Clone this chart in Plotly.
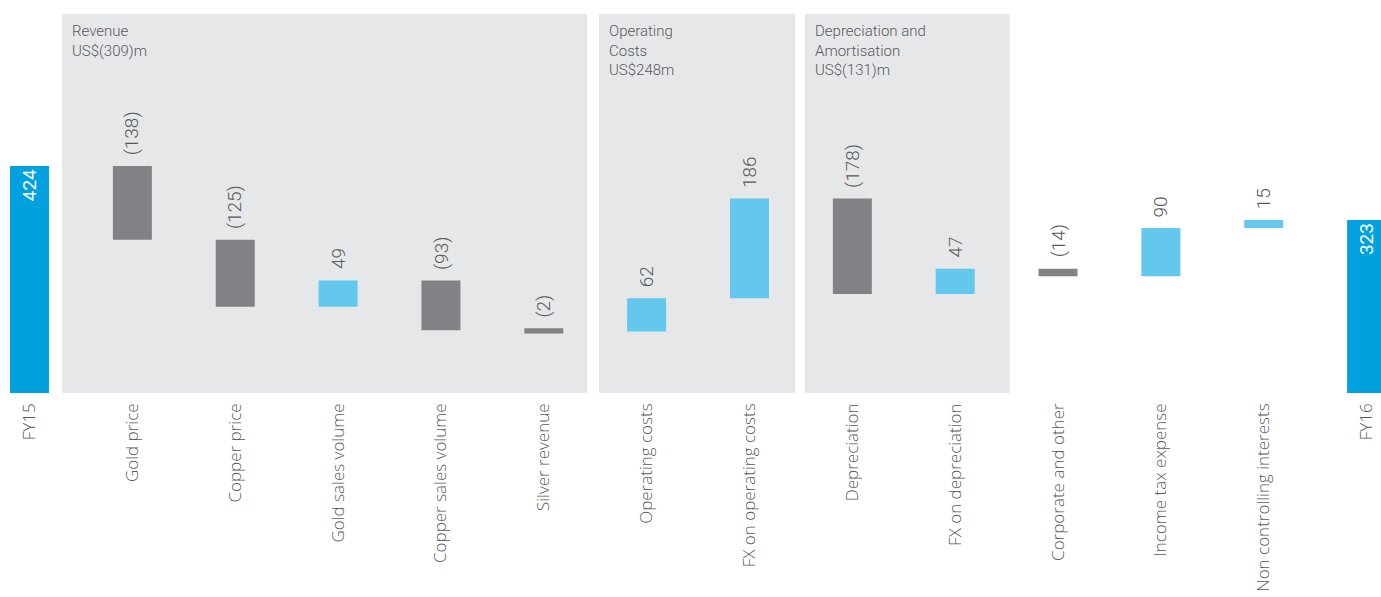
import plotly.graph_objects as go

categories = ["FY15", "Gold price", "Copper price", "Gold sales volume", "Copper sales volume",
              "Silver revenue", "Operating costs", "FX on operating costs", "Depreciation",
              "FX on depreciation", "Corporate and other", "Income tax expense",
              "Non controlling interests", "FY16"]
values = [424, -138, -125, 49, -93, -2, 62, 186, -178, 47, -14, 90, 15, 323]
measures = ["total"] + ["relative"] * 12 + ["total"]
value_labels = ["424", "(138)", "(125)", "49", "(93)", "(2)", "62", "186", "(178)", "47",
                "(14)", "90", "15", "323"]

panel_titles = ["Revenue<br>US$(309)m", "Operating<br>Costs<br>US$248m",
                "Depreciation and<br>Amortisation<br>US$(131)m"]
panel_spans = [(0.316, 5.42), (5.537, 7.443), (7.54, 9.53)]

C_DEC = "#818286"
C_INC = "#64c7ed"
C_TOT = "#00a1de"
C_PANEL = "#e6e7e9"
C_TEXT = "#58595b"

# compute bases
bases, heights, colors = [], [], []
running = 0
for v, m in zip(values, measures):
    if m == "total":
        bases.append(0)
        heights.append(v)
        colors.append(C_TOT)
        running = v
    else:
        if v >= 0:
            bases.append(running)
            heights.append(v)
            colors.append(C_INC)
        else:
            bases.append(running + v)
            heights.append(-v)
            colors.append(C_DEC)
        running += v

x = list(range(len(categories)))
# very thin bars get a minimum visible thickness via an outline of the same colour
line_w = [4 if h < 5 else 0 for h in heights]
bar_w = [0.34 if h < 5 else 0.379 for h in heights]

fig = go.Figure()
fig.add_trace(go.Bar(
    x=x, y=heights, base=bases,
    marker=dict(color=colors, line=dict(width=line_w, color=colors)),
    width=bar_w, hoverinfo="skip",
    text=[lbl if m == "total" else "" for lbl, m in zip(value_labels, measures)],
    textposition="inside", insidetextanchor="end", textangle=-90,
    textfont=dict(family="Roboto", size=19, color="white"),
))

annotations = []
for i, (lbl, m) in enumerate(zip(value_labels, measures)):
    if m == "total":
        continue
    top = bases[i] + heights[i]
    annotations.append(dict(x=i, y=top, xref="x", yref="y", text=lbl, showarrow=False,
                            textangle=-90, yanchor="bottom", xanchor="center",
                            yshift=9 + (2 if line_w[i] else 0),
                            font=dict(family="Roboto", size=19, color=C_TEXT, weight=300)))

shapes = []
for (x0, x1), title in zip(panel_spans, panel_titles):
    shapes.append(dict(type="rect", xref="x", yref="paper", x0=x0, x1=x1, y0=0, y1=1,
                       fillcolor=C_PANEL, line=dict(width=0), layer="below"))
    annotations.append(dict(x=x0, y=1, xref="x", yref="paper", text=title, showarrow=False,
                            xanchor="left", yanchor="top", align="left", xshift=8, yshift=-6,
                            font=dict(family="Roboto", size=15, color=C_TEXT, weight=300)))

fig.update_layout(
    width=1381, height=597,
    margin=dict(l=0, r=0, t=14, b=204),
    paper_bgcolor="white", plot_bgcolor="white",
    showlegend=False,
    shapes=shapes, annotations=annotations,
    xaxis=dict(range=[-0.287, 13.14], tickmode="array", tickvals=x, ticktext=categories,
               tickangle=-90, showgrid=False, zeroline=False, showline=False, ticks="",
               tickfont=dict(family="Open Sans", size=17, color=C_TEXT, weight=300),
               ticklabelstandoff=6, automargin=False),
    yaxis=dict(range=[0, 707.7], visible=False, showgrid=False, zeroline=False,
               automargin=False),
)

fig.write_html("out.html", config={"displayModeBar": False},
               post_script="document.body.style.margin='0';document.body.style.overflow='hidden';")
